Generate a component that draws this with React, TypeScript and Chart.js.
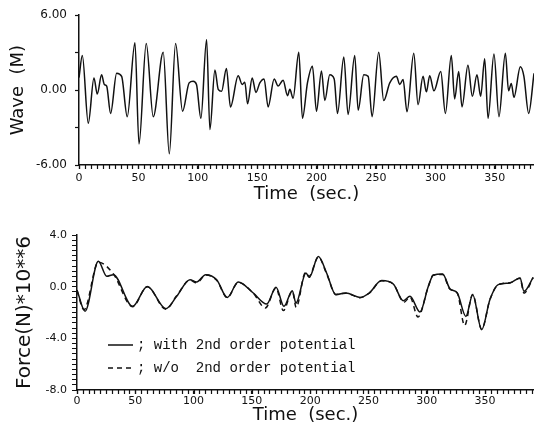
import React, { useEffect, useRef } from "react";
import { Chart, registerables } from "chart.js";

Chart.register(...registerables);

// ---- Top chart: wave elevation ----
const waveTime = [0, 2.8, 7.8, 12.6, 15.4, 19, 21.3, 23.3, 26.6, 31.7, 35.9, 40.6, 47.1, 50.5, 56.6, 62.5, 70.9, 76, 81.3, 87.2, 92.7, 96.1, 98.9, 102.6, 107.4, 110.2, 114.4, 117.2, 120, 124.1, 127.5, 134, 137.4, 139.6, 141.9, 145.8, 148.9, 152.2, 155.8, 159.2, 164.3, 167.6, 171.8, 175.5, 177.5, 180.2, 185, 188.1, 192.3, 196.5, 199.9, 204.1, 206.9, 211.1, 214.8, 217.6, 222.9, 226.5, 232.1, 235, 239.7, 243.4, 246.7, 252.3, 256.5, 261.6, 267.2, 270, 272.8, 276.1, 281.8, 285.4, 289.6, 292.4, 295.2, 298.8, 304.5, 308.4, 313.4, 316.2, 319.6, 322.4, 327.4, 331.1, 335, 338.1, 341.5, 344.3, 349.3, 353.5, 358.9, 361.6, 363.9, 366.1, 371.5, 374.5, 378.5, 383];
const waveValue = [1.0, 2.77, -2.65, 0.97, -0.32, 1.22, 0.45, 0.32, -1.87, 1.35, 1.1, -2.13, 3.8, -4.32, 3.73, -2.13, 3.03, -5.1, 3.73, -1.69, 0.58, 0.71, 0.45, -2.26, 4.06, -3.16, 1.61, 0.06, -0.1, 1.74, -1.35, 1.15, 0.45, 0.63, -1.1, 0.97, -0.19, 0.58, 0.89, -1.35, 0.89, 0.32, 0.79, -0.45, 0.06, -0.66, 3.03, -2.26, 0.58, 1.92, -1.69, 1.53, -0.84, 1.22, 0.89, -1.87, 2.65, -1.95, 2.77, -1.61, 1.22, 1.1, -2.13, 3.03, -0.84, 0.58, 1.1, 0.45, 0.84, -1.74, 2.96, -1.17, 1.1, -0.14, 1.15, -0.06, 1.48, -1.87, 2.77, -0.71, 1.48, -1.35, 2.0, -0.5, 1.22, -0.5, 2.52, -2.26, 2.9, -2.13, 2.96, -0.06, 0.53, -0.58, 1.87, 1.1, -1.87, 1.35];

// ---- Bottom chart: force ----
const forceTimeWith = [0, 6.9, 18.3, 25.5, 31.1, 47.7, 60.3, 76.3, 85.5, 96.9, 102.6, 110.4, 119.8, 128.9, 138.3, 151.2, 162.7, 170.7, 177.5, 184.7, 187.8, 196.4, 199.2, 207, 214.1, 222, 230.7, 242.7, 250.7, 261.3, 271.3, 279.9, 285.6, 294.2, 301.3, 305.6, 313.6, 319.9, 326.2, 333.6, 339.4, 347.1, 354.2, 361.3, 371.4, 380, 383.4, 391.3];
const forceWith = [-0.25, -1.9, 1.96, 0.8, 0.93, -1.52, 0.02, -1.7, -0.75, 0.54, 0.36, 0.93, 0.54, -0.83, 0.36, -0.49, -1.34, -0.05, -1.52, -0.31, -1.27, 1.06, 0.72, 2.33, 1.06, -0.62, -0.49, -0.83, -0.49, 0.47, 0.21, -1.09, -0.75, -1.96, 0.02, 0.88, 0.98, -0.16, -0.49, -2.3, -0.62, -3.33, -1.0, 0.16, 0.29, 0.67, -0.36, 0.72];

const forceTimeWithout = [0, 6, 18.3, 31.1, 47.7, 60.3, 76.3, 85.5, 96.9, 102.6, 110.4, 119.8, 128.9, 138.3, 151.2, 161.5, 170.7, 177, 184.7, 188, 196, 199, 207, 214.1, 222, 230.7, 242.7, 250.7, 261.3, 271.3, 280.5, 285.6, 292.5, 301.3, 305.6, 313.6, 319.9, 326.2, 332.5, 339.4, 347.1, 354.2, 361.3, 371.4, 380, 383.4, 391.3];
const forceWithout = [-0.3, -1.78, 1.9, 1.0, -1.55, 0.0, -1.75, -0.7, 0.5, 0.3, 0.9, 0.5, -0.85, 0.33, -0.5, -1.65, -0.1, -1.85, -0.35, -1.6, 1.1, 0.8, 2.3, 1.0, -0.6, -0.5, -0.85, -0.5, 0.45, 0.2, -1.2, -0.8, -2.35, 0.0, 0.9, 0.95, -0.2, -0.5, -3.0, -0.6, -3.3, -1.0, 0.15, 0.3, 0.65, -0.5, 0.7];

const legendLabels = ["; with 2nd order potential", "; w/o  2nd order potential"];

// axis tick steps (minor) and label steps
const timeMinorStep = 5;
const timeLabelStep = 50;
const waveMinorStep = 3;
const waveLabelStep = 6;
const forceMinorStep = 0.4;
const forceLabelStep = 4;

const INK = "#111111";

const toPoints = (xs: number[], ys: number[]) => xs.map((x, i) => ({ x, y: ys[i] }));

const stepTicks = (min: number, max: number, step: number) => {
  const out: { value: number }[] = [];
  const n = Math.floor((max - min) / step + 1e-9);
  for (let i = 0; i <= n; i++) out.push({ value: +(min + i * step).toFixed(6) });
  return out;
};

const isMultiple = (v: number, m: number) => Math.abs(v - Math.round(v / m) * m) < 1e-6;

// draws the ruler-like minor tick marks under the time axis through the x scale
const timeRulerPlugin = {
  id: "timeRuler",
  afterDraw(chart: any) {
    const s = chart.scales.x;
    const { ctx } = chart;
    ctx.save();
    ctx.strokeStyle = INK;
    ctx.lineWidth = 1.2;
    ctx.beginPath();
    stepTicks(s.min, s.max, timeMinorStep).forEach((t) => {
      const px = Math.round(s.getPixelForValue(t.value)) + 0.5;
      ctx.moveTo(px, s.top);
      ctx.lineTo(px, s.top + 4);
    });
    ctx.stroke();
    ctx.restore();
  },
};

const legendPlugin = {
  id: "inlineLegend",
  afterDatasetsDraw(chart: any) {
    if (!chart.options.plugins.inlineLegend?.show) return;
    const { ctx, chartArea } = chart;
    const x0 = chartArea.left + 31;
    const x1 = x0 + 25;
    const ys = [chartArea.top + 110, chartArea.top + 133];
    ctx.save();
    ctx.strokeStyle = INK;
    ctx.lineWidth = 1.5;
    chart.data.datasets.forEach((ds: any, i: number) => {
      ctx.setLineDash(ds.borderDash || []);
      ctx.beginPath();
      ctx.moveTo(x0, ys[i]);
      ctx.lineTo(x1, ys[i]);
      ctx.stroke();
    });
    ctx.setLineDash([]);
    ctx.fillStyle = INK;
    ctx.font = '14px "Liberation Mono"';
    ctx.textBaseline = "middle";
    chart.data.datasets.forEach((ds: any, i: number) => {
      ctx.fillText(ds.label, x1 + 4, ys[i]);
    });
    ctx.restore();
  },
};

function xScale(max: number, pad: number, height: number, titlePadBottom: number) {
  return {
    type: "linear" as const,
    min: 0,
    max,
    border: { display: true, color: INK, width: 1.5 },
    grid: { display: true, drawOnChartArea: false, drawTicks: true, tickLength: 4, color: INK, tickColor: INK, tickWidth: 1.2 },
    afterBuildTicks: (s: any) => {
      s.ticks = stepTicks(0, max, timeLabelStep);
    },
    ticks: {
      autoSkip: false,
      maxRotation: 0,
      minRotation: 0,
      padding: pad,
      color: INK,
      font: { family: '"DejaVu Sans"', size: 11 },
      callback: (v: any) => (isMultiple(v, timeLabelStep) ? String(Math.round(v)) : ""),
    },
    title: {
      display: true,
      text: "Time  (sec.)",
      color: INK,
      font: { family: '"DejaVu Sans"', size: 18 },
      padding: { top: 0, bottom: titlePadBottom },
    },
    afterFit: (s: any) => {
      s.height = height;
    },
  };
}

export default function App() {
  const topRef = useRef<HTMLCanvasElement>(null);
  const botRef = useRef<HTMLCanvasElement>(null);

  useEffect(() => {
    const top = new Chart(topRef.current!, {
      type: "line",
      data: {
        datasets: [
          {
            label: "Wave",
            data: toPoints(waveTime, waveValue),
            borderColor: INK,
            borderWidth: 1.5,
            pointRadius: 0,
            cubicInterpolationMode: "monotone",
          },
        ],
      },
      options: {
        animation: false,
        responsive: false,
        maintainAspectRatio: false,
        layout: { padding: { top: 10, right: 0, left: 0, bottom: 0 } },
        plugins: { legend: { display: false }, tooltip: { enabled: false } },
        scales: {
          x: xScale(383, 3, 43, 3),
          y: {
            min: -6,
            max: 6,
            border: { display: true, color: INK, width: 1.5 },
            grid: { drawOnChartArea: false, drawTicks: true, tickLength: 4, color: INK, tickColor: INK, tickWidth: 1.2 },
            afterBuildTicks: (s: any) => {
              s.ticks = stepTicks(-6, 6, waveMinorStep);
            },
            ticks: {
              autoSkip: false,
              padding: 8,
              color: INK,
              font: { family: '"DejaVu Sans"', size: 12 },
              callback: (v: any) => (isMultiple(v, waveLabelStep) ? Number(v).toFixed(2) : ""),
            },
            title: {
              display: true,
              text: "Wave  (M)",
              color: INK,
              font: { family: '"DejaVu Sans"', size: 18 },
              padding: { top: 8, bottom: 0 },
            },
            afterFit: (s: any) => {
              s.width = 79;
            },
          },
        },
      } as any,
      plugins: [timeRulerPlugin],
    });

    const bot = new Chart(botRef.current!, {
      type: "line",
      data: {
        datasets: [
          {
            label: legendLabels[0],
            data: toPoints(forceTimeWith, forceWith),
            borderColor: INK,
            borderWidth: 1.5,
            pointRadius: 0,
            cubicInterpolationMode: "monotone",
          },
          {
            label: legendLabels[1],
            data: toPoints(forceTimeWithout, forceWithout),
            borderColor: INK,
            borderWidth: 1.5,
            borderDash: [5, 4],
            pointRadius: 0,
            cubicInterpolationMode: "monotone",
          },
        ],
      },
      options: {
        animation: false,
        responsive: false,
        maintainAspectRatio: false,
        layout: { padding: { top: 27, right: 0, left: 0, bottom: 0 } },
        plugins: { legend: { display: false }, tooltip: { enabled: false }, inlineLegend: { show: true } },
        scales: {
          x: xScale(392, 1, 43, 7),
          y: {
            min: -8,
            max: 4,
            border: { display: true, color: INK, width: 1.5 },
            grid: { drawOnChartArea: false, drawTicks: true, tickLength: 5, color: INK, tickColor: INK, tickWidth: 1 },
            afterBuildTicks: (s: any) => {
              s.ticks = stepTicks(-8, 4, forceMinorStep);
            },
            ticks: {
              autoSkip: false,
              padding: 5,
              color: INK,
              font: { family: '"DejaVu Sans"', size: 11 },
              callback: (v: any) => (isMultiple(v, forceLabelStep) ? Number(v).toFixed(1) : ""),
            },
            title: {
              display: true,
              text: "Force(N)*10**6",
              color: INK,
              font: { family: '"DejaVu Sans"', size: 20 },
              padding: { top: 13, bottom: 0 },
            },
            afterFit: (s: any) => {
              s.width = 77;
            },
          },
        },
      } as any,
      plugins: [legendPlugin, timeRulerPlugin],
    });

    return () => {
      top.destroy();
      bot.destroy();
    };
  }, []);

  return (
    <div style={{ position: "absolute", left: 0, top: 0, width: 534, height: 433, background: "#fff" }}>
      <canvas ref={topRef} width={534} height={208} style={{ position: "absolute", left: 0, top: 0, width: 534, height: 208 }} />
      <canvas ref={botRef} width={534} height={225} style={{ position: "absolute", left: 0, top: 208, width: 534, height: 225 }} />
    </div>
  );
}
